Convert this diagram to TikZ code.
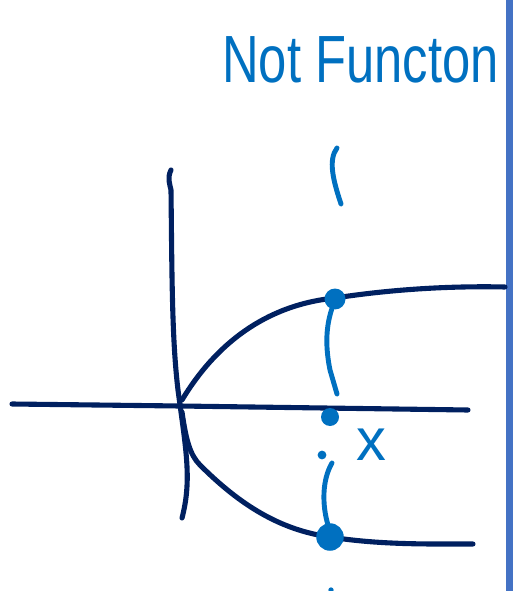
\documentclass[tikz,border=0pt]{standalone}
\usepackage{fontspec}
\setmainfont{Liberation Sans}
\usetikzlibrary{positioning}
\definecolor{navy}{HTML}{002060}
\definecolor{penblue}{HTML}{0070C0}
\definecolor{barblue}{HTML}{4472C4}
\tikzset{
  axisline/.style={draw=navy,line width=2.9pt,line cap=round,line join=round},
  penline/.style={draw=penblue,line width=2.8pt,line cap=round,line join=round},
  pendot/.style={circle,fill=penblue,inner sep=0pt,minimum size=#1},
  pendot/.default=0.42cm,
  handtext/.style={text=penblue,inner sep=0pt,anchor=base west}
}
\begin{document}
\begin{tikzpicture}[x=0.02cm,y=-0.02cm]
  \useasboundingbox (0,0) rectangle (513,591);
  \node[handtext,font=\fontsize{38}{38}\selectfont,xscale=0.76] (title) at (222,83) {Not Functon};
  \fill[barblue] (506,0) rectangle (513,591);
  % axes
  \draw[axisline] (12,404) -- (180,406) -- (468,410);
  \draw[axisline] (171,170) .. controls (167,178) and (170,185) .. (171,190)
    .. controls (172,280) and (172,340) .. (178,390)
    .. controls (186,450) and (192,480) .. (182,518);
  % curve
  \draw[axisline] (182,400) .. controls (215,345) and (265,305) .. (335,298)
    .. controls (400,288) and (460,286) .. (505,287);
  \draw[axisline] (182,412) .. controls (186,440) and (190,455) .. (200,465)
    .. controls (240,505) and (280,530) .. (330,537)
    .. controls (380,545) and (430,544) .. (473,544);
  % vertical line through x
  \draw[penline] (337,148) .. controls (328,160) and (333,180) .. (341,204);
  \node[pendot] (top) at (335,299) {};
  \draw[penline] (top) .. controls (325,330) and (326,350) .. (330,370) -- (337,394);
  \node[pendot=0.36cm] (mid) at (330,417) {};
  \fill[penblue] (322,455) circle (2.5pt);
  \draw[penline] (332,463) .. controls (322,480) and (322,505) .. (328,525);
  \node[pendot=0.55cm] (low) at (330,537) {};
  \fill[penblue] (331,590) circle (1.5pt);
  \node[handtext,font=\fontsize{34}{34}\selectfont] (xlab) at (356,460) {x};
\end{tikzpicture}
\end{document}
